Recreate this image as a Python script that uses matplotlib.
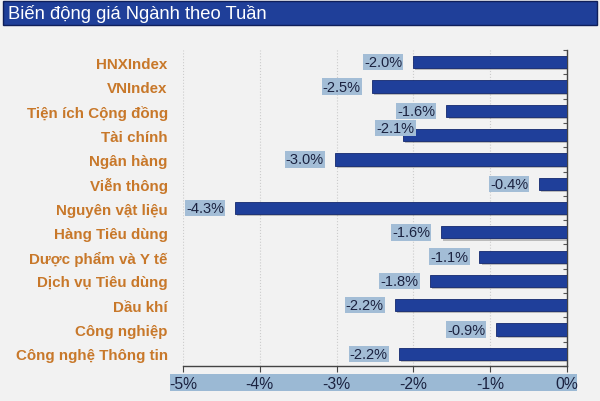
import matplotlib
matplotlib.use("Agg")
import matplotlib.pyplot as plt
import matplotlib.patheffects as pe
from matplotlib.patches import Rectangle
from matplotlib.ticker import FixedLocator, FuncFormatter
import numpy as np

title = "Biến động giá Ngành theo Tuần"
categories = ["HNXIndex", "VNIndex", "Tiện ích Cộng đồng", "Tài chính", "Ngân hàng",
              "Viễn thông", "Nguyên vật liệu", "Hàng Tiêu dùng", "Dược phẩm và Y tế",
              "Dịch vụ Tiêu dùng", "Dầu khí", "Công nghiệp", "Công nghệ Thông tin"]
values = [-2.00, -2.54, -1.57, -2.13, -3.02, -0.36, -4.32, -1.64, -1.14, -1.79, -2.24, -0.92, -2.19]
x_ticks = [-5, -4, -3, -2, -1, 0]

plt.rcParams['font.family'] = ['Liberation Sans', 'DejaVu Sans']

bg = "#f2f2f2"
bar_color = "#1f3f9a"
label_color = "#c8782a"
box_color = "#a3bdd6"
text_dark = "#1b2240"

fig = plt.figure(figsize=(6, 4.02), dpi=100, facecolor=bg)
ax = fig.add_axes([0.305, 0.087, 0.64, 0.786])
ax.set_facecolor(bg)

# Title bar
fig.patches.append(Rectangle((3/600, 1-26/402), 594/600, 24/402, transform=fig.transFigure,
                             facecolor="#1f3f99", edgecolor="#0f1f5a", linewidth=1.0))
fig.text(8/600, 1-14/402, title, color="white", fontsize=13.2, va="center", ha="left")

y = np.arange(len(categories))
bars = ax.barh(y, values, height=0.5, color=bar_color, edgecolor="#13286e", linewidth=0.6, zorder=3)
for b in bars:
    b.set_path_effects([pe.SimplePatchShadow(offset=(1.5, -1.5), shadow_rgbFace="#555555", alpha=0.35),
                        pe.Normal()])

ax.set_xlim(-5, 0)
ax.set_ylim(len(categories) - 0.5, -0.5)

for i, v in enumerate(values):
    dx, dy = -8, 0
    if i == 3:
        dx, dy = 8, 5
    ax.annotate(f"{v:.1f}%", xy=(v, i), xytext=(dx, dy), textcoords="offset points",
                ha="right", va="center", fontsize=10.5, color=text_dark, zorder=4,
                bbox=dict(boxstyle="square,pad=0.08", facecolor=box_color, edgecolor="none"))

ax.set_yticks(y)
ax.set_yticklabels(categories, fontsize=10.9, fontweight="bold", color=label_color)
ax.tick_params(axis="y", which="major", length=0, pad=11)
ax.yaxis.set_minor_locator(FixedLocator(np.arange(-0.5, len(categories), 1)))
ax.tick_params(axis="y", which="minor", left=False, right=True, direction="in", length=3,
               color="#555555", width=0.8)

ax.set_xticks(x_ticks)
ax.xaxis.set_major_formatter(FuncFormatter(lambda v, p: f"{v:.0f}%"))
ax.tick_params(axis="x", direction="out", length=4, color="#444444", pad=3.5,
               labelsize=11.3, labelcolor=text_dark)
for t in ax.get_xticklabels():
    t.set_zorder(5)
ax.grid(axis="x", color="#cccccc", linestyle=":", linewidth=0.8, zorder=0)

for s in ["top", "left"]:
    ax.spines[s].set_visible(False)
ax.spines["bottom"].set_color("#444444")
ax.spines["right"].set_color("#444444")
ax.spines["bottom"].set_linewidth(1.0)
ax.spines["right"].set_linewidth(1.0)

# tick label band
ax.add_patch(Rectangle((-0.034, -0.079), 1.06, 0.054, transform=ax.transAxes,
                       facecolor="#9bb9d4", edgecolor="none", clip_on=False, zorder=0))

fig.savefig("out.png", dpi=100, facecolor=bg)
